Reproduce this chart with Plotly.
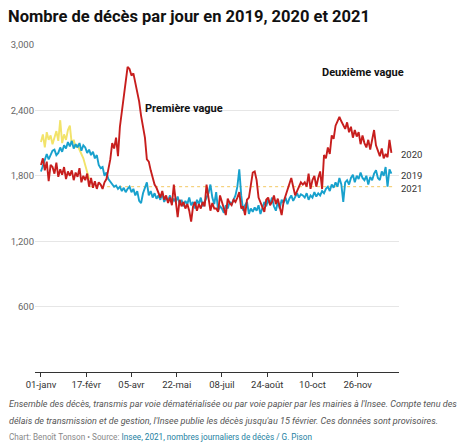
import plotly.graph_objects as go

# ---- data (daily deaths, sampled every 2 days, day 0 = 1 January) ----
days_full = list(range(0, 365, 2))
deaths_2019 = [
    1840, 1900, 1960, 2000, 1950, 1990, 2030, 2040, 1990, 2010, 2060, 2020, 2080, 2050, 2110, 2070,
    2120, 2050, 2090, 2060, 2100, 2030, 2080, 2060, 2010, 2040, 1990, 2020, 1960, 1990, 1900,
    1870, 1880, 1800, 1830, 1770, 1750, 1720, 1700, 1710, 1680, 1700, 1660, 1690, 1650, 1680,
    1700, 1650, 1680, 1620, 1660, 1570, 1550, 1640, 1700, 1740, 1620, 1660, 1600, 1640, 1590,
    1620, 1580, 1640, 1560, 1600, 1570, 1620, 1550, 1590, 1560, 1610, 1540, 1580, 1520, 1570,
    1540, 1600, 1530, 1560, 1500, 1580, 1540, 1600, 1520, 1560, 1600, 1640, 1720, 1600, 1540,
    1650, 1480, 1520, 1500, 1460, 1530, 1500, 1560, 1540, 1580, 1620, 1700, 1860, 1620, 1480,
    1530, 1560, 1450, 1500, 1470, 1510, 1480, 1530, 1450, 1500, 1560, 1520, 1580, 1540, 1600,
    1520, 1480, 1560, 1500, 1580, 1550, 1600, 1540, 1590, 1620, 1570, 1600, 1640, 1600, 1630,
    1620, 1600, 1640, 1580, 1620, 1600, 1650, 1610, 1640, 1620, 1660, 1640, 1680, 1700, 1660,
    1720, 1690, 1740, 1700, 1780, 1720, 1560, 1740, 1760, 1720, 1780, 1810, 1740, 1800, 1770,
    1830, 1780, 1760, 1800, 1720, 1790, 1760, 1820, 1850, 1780, 1760, 1840, 1800, 1880, 1700, 1860, 1820,
]
deaths_2020 = [
    1900, 1960, 1850, 1930, 1750, 1900, 1880, 1820, 1920, 1790, 1860, 1810, 1880, 1770, 1840, 1800,
    1850, 1760, 1830, 1790, 1870, 1740, 1800, 1760, 1820, 1700, 1780, 1690, 1750, 1680, 1740,
    1720, 1680, 1740, 1770, 1850, 1950, 2100, 2050, 2150, 1980, 2250, 2400, 2500, 2650, 2800,
    2780, 2720, 2740, 2650, 2560, 2480, 2350, 2250, 2150, 1950, 1930, 1850, 1780, 1720, 1690,
    1650, 1600, 1660, 1580, 1620, 1550, 1600, 1530, 1720, 1560, 1420, 1580, 1520, 1560, 1500,
    1540, 1480, 1380, 1520, 1560, 1480, 1540, 1500, 1560, 1520, 1720, 1580, 1480, 1550, 1500,
    1500, 1470, 1620, 1550, 1500, 1440, 1590, 1550, 1530, 1580, 1560, 1600, 1650, 1500, 1520,
    1440, 1580, 1600, 1700, 1830, 1840, 1760, 1600, 1560, 1520, 1470, 1580, 1600, 1530, 1560,
    1620, 1540, 1590, 1500, 1440, 1560, 1620, 1680, 1720, 1780, 1700, 1620, 1660, 1700, 1740,
    1720, 1740, 1700, 1820, 1680, 1760, 1800, 1700, 1780, 1840, 1680, 1990, 1960, 2060, 2000,
    2170, 2140, 2260, 2300, 2340, 2300, 2260, 2230, 2290, 2200, 2250, 2150, 2220, 2160, 2200,
    2090, 2170, 2100, 2060, 2130, 2040, 2150, 2220, 2080, 2030, 1980, 2050, 1960, 2000, 1970, 2130, 2010,
]
days_2021 = list(range(0, 51, 2))
deaths_2021 = [
    2110, 2180, 2060, 2200, 2130, 2170, 2090, 2150, 2210, 2120, 2310, 2100, 2180,
    2130, 2220, 2260, 2090, 2130, 2060, 2080, 2030, 2000, 1960, 1900, 1850, 1770,
]
level_2021 = 1700  # dotted continuation towards the 2021 label

tick_days = [0, 47, 94, 141, 188, 235, 282, 329]
tick_labels = ["01-janv", "17-févr", "05-avr", "22-mai", "08-juil", "24-août", "10-oct", "26-nov"]
y_ticks = [600, 1200, 1800, 2400, 3000]
y_tick_labels = ["600", "1,200", "1,800", "2,400", "3,000"]

RED = "#c71e1d"
BLUE = "#18a1cd"
YELLOW = "#f2e36a"
FONT = "Roboto"

fig = go.Figure()
fig.add_trace(go.Scatter(x=[days_2021[-1], 365], y=[level_2021, level_2021], mode="lines",
                         line=dict(color="#f3c862", width=1, dash="dot"), hoverinfo="skip"))
fig.add_trace(go.Scatter(x=days_2021, y=deaths_2021, mode="lines",
                         line=dict(color=YELLOW, width=1.9), name="2021"))
fig.add_trace(go.Scatter(x=days_full, y=deaths_2019, mode="lines",
                         line=dict(color=BLUE, width=1.9), name="2019"))
fig.add_trace(go.Scatter(x=days_full, y=deaths_2020, mode="lines",
                         line=dict(color=RED, width=1.9), name="2020"))

fig.update_layout(
    width=460, height=446,
    margin=dict(l=35, r=61, t=45, b=74),
    paper_bgcolor="white", plot_bgcolor="white",
    showlegend=False,
    font=dict(family=FONT, size=9, color="#333333"),
    xaxis=dict(range=[-6.2, 371.9], tickmode="array", tickvals=tick_days, ticktext=tick_labels,
               showgrid=False, zeroline=False, showline=True, linecolor="#333333", linewidth=1,
               ticks="outside", ticklen=4, tickcolor="#333333",
               tickfont=dict(size=9.5, color="#333333")),
    yaxis=dict(range=[0, 3000], tickmode="array", tickvals=y_ticks, ticktext=y_tick_labels,
               showgrid=True, gridcolor="#e6e6e6", gridwidth=1, zeroline=False, showline=False,
               ticks="", tickfont=dict(size=9.5, color="#666666")),
)

def pap_y(py):
    return (372 - py) / 327.0

def pap_x(px):
    return (px - 35) / 364.0

ann = []
ann.append(dict(text="<b>Nombre de décès par jour en 2019, 2020 et 2021</b>", xref="paper", yref="paper",
                x=pap_x(6), y=pap_y(17), xanchor="left", yanchor="middle", showarrow=False,
                font=dict(family=FONT, size=16.5, color="#111111")))
ann.append(dict(text="<b>Première vague</b>", xref="x", yref="y", x=106, y=2420,
                xanchor="left", yanchor="middle", showarrow=False,
                font=dict(family=FONT, size=11, color="#111111")))
ann.append(dict(text="<b>Deuxième vague</b>", xref="x", yref="y", x=290, y=2750,
                xanchor="left", yanchor="middle", showarrow=False,
                font=dict(family=FONT, size=11, color="#111111")))
for label, yv in [("2020", 2000), ("2019", 1800), ("2021", 1680)]:
    ann.append(dict(text=label, xref="paper", yref="y", x=pap_x(399), y=yv,
                    xanchor="left", yanchor="middle", showarrow=False,
                    font=dict(family=FONT, size=9.5, color="#333333")))
ann.append(dict(text="<i>Ensemble des décès, transmis par voie dématérialisée ou par voie papier par les mairies à l'Insee. Compte tenu des</i>",
                xref="paper", yref="paper", x=pap_x(7), y=pap_y(404), xanchor="left", yanchor="middle",
                showarrow=False, font=dict(family=FONT, size=9.05, color="#555555")))
ann.append(dict(text="<i>délais de transmission et de gestion, l'Insee publie les décès jusqu'au 15 février. Ces données sont provisoires.</i>",
                xref="paper", yref="paper", x=pap_x(7), y=pap_y(421), xanchor="left", yanchor="middle",
                showarrow=False, font=dict(family=FONT, size=9.05, color="#555555")))
ann.append(dict(text="Chart: Benoît Tonson • Source: <span style='color:#1d81a2'>Insee, 2021, nombres journaliers de décès / G. Pison</span>",
                xref="paper", yref="paper", x=pap_x(7), y=pap_y(437), xanchor="left", yanchor="middle",
                showarrow=False, font=dict(family=FONT, size=8.2, color="#888888")))
fig.update_layout(annotations=ann)

fig.write_html("out.html")
